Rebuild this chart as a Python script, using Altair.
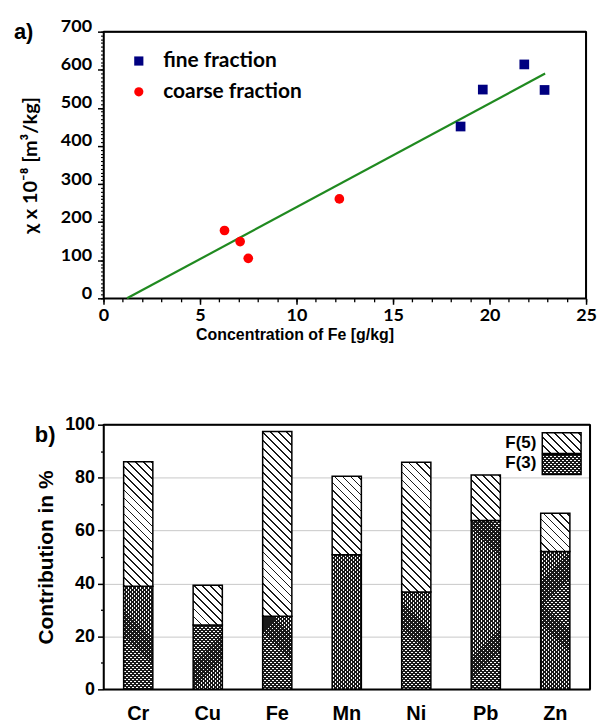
import math
import altair as alt
import pandas as pd

# ---------------- data: panel a ----------------
series_names = ["fine fraction", "coarse fraction"]
fine_x = [18.5, 19.65, 21.8, 22.85]
fine_y = [451, 548, 614, 547]
coarse_x = [6.27, 7.08, 7.5, 12.22]
coarse_y = [178, 149, 105, 261]
fit_x = [1.22, 22.88]
fit_y = [0, 590]
x_ticks_a = [0, 5, 10, 15, 20, 25]
y_ticks_a = [0, 100, 200, 300, 400, 500, 600, 700]

# ---------------- data: panel b ----------------
elements = ["Cr", "Cu", "Fe", "Mn", "Ni", "Pb", "Zn"]
f3_vals = [39.0, 24.3, 27.6, 50.9, 36.8, 63.8, 52.1]
total_vals = [86.0, 39.3, 97.4, 80.5, 85.8, 81.0, 66.5]
legend_b = ["F(5)", "F(3)"]
y_ticks_b = [0, 20, 40, 60, 80, 100]
y_minor_b = [10, 30, 50, 70, 90]

# ---------------- layout ----------------
WA, HA = 485, 268
WB, HB = 489, 266
PAD_INNER = 0.58
BANDW = WB / 7 * (1 - PAD_INNER)
PX_PER_UNIT_B = HB / 100.0
SQ2 = math.sqrt(2)


def stripes(w, h, period, thick, ink, gap, direction):
    """Linear gradient (bbox units) that draws 45 degree stripes."""
    L = (w + h) / SQ2
    a, b = 1.0 / h, 1.0 / w
    s = (a + b) / (a * a + b * b)
    if direction == "back":
        x1, y1, x2, y2 = 0, 1, a * s, 1 - b * s
    else:
        x1, y1, x2, y2 = 0, 0, a * s, b * s
    stops = []
    k = 0
    while True:
        start = k * period / L
        if start >= 1:
            break
        end = min((k * period + thick) / L, 1.0)
        stops += [
            {"offset": round(start, 6), "color": gap},
            {"offset": round(start, 6), "color": ink},
            {"offset": round(end, 6), "color": ink},
            {"offset": round(end, 6), "color": gap},
        ]
        k += 1
    return {"gradient": "linear", "x1": x1, "y1": y1, "x2": round(x2, 7),
            "y2": round(y2, 7), "stops": stops}


HATCH_P, HATCH_T = 8 / SQ2, 1.3
CROSS_P, CROSS_T = 4 / SQ2, 1.5
INK = "#1a1a1a"
CLEAR = "rgba(255,255,255,0)"

rows = []
for el, f3, tot in zip(elements, f3_vals, total_vals):
    h3 = max(f3 * PX_PER_UNIT_B, 1)
    h5 = max((tot - f3) * PX_PER_UNIT_B, 1)
    rows.append({
        "element": el, "f3": f3, "total": tot,
        "g5": stripes(BANDW, h5, HATCH_P, HATCH_T, INK, "white", "back"),
        "g3a": stripes(BANDW, h3, CROSS_P, CROSS_T, INK, "white", "back"),
        "g3b": stripes(BANDW, h3, CROSS_P, CROSS_T, INK, CLEAR, "fwd"),
    })
bars_df = pd.DataFrame(rows)


def border(w, h):
    d = pd.DataFrame({"b": [0]})
    top = alt.Chart(d).mark_rule(color="black", strokeWidth=2).encode(
        x=alt.value(0), x2=alt.value(w), y=alt.value(0))
    right = alt.Chart(d).mark_rule(color="black", strokeWidth=2).encode(
        x=alt.value(w), y=alt.value(0), y2=alt.value(h))
    return [top, right]


# ---------------- panel a ----------------
scatter_df = pd.DataFrame({
    "x": fine_x + coarse_x,
    "y": fine_y + coarse_y,
    "series": [series_names[0]] * len(fine_x) + [series_names[1]] * len(coarse_x),
})
fit_df = pd.DataFrame({"x": fit_x, "y": fit_y})

xs_a = alt.Scale(domain=[0, 25], nice=False, zero=False)
ys_a = alt.Scale(domain=[0, 700], nice=False)

fit = alt.Chart(fit_df).mark_line(color="#208a20", strokeWidth=2.2).encode(
    x=alt.X("x:Q", scale=xs_a, axis=None),
    y=alt.Y("y:Q", scale=ys_a, axis=None),
)

minor_a = alt.Chart(fit_df).mark_line(opacity=0).encode(
    x=alt.X("x:Q", scale=xs_a, axis=alt.Axis(
        orient="bottom", values=list(range(26)), labels=False, domain=False,
        grid=False, title=None, tickSize=3.5, tickWidth=1.3, tickColor="black")),
    y=alt.Y("y:Q", scale=ys_a, axis=alt.Axis(
        orient="left", values=list(range(0, 701, 10)), labels=False, domain=False,
        grid=False, title=None, tickSize=3, tickWidth=1.1, tickColor="black")),
)

leg_a = alt.Legend(
    orient="none", legendX=25, legendY=19, title=None,
    labelFont="Lato", labelFontWeight="bold", labelFontSize=21, labelColor="black",
    symbolSize=85, symbolStrokeWidth=0, rowPadding=9, labelOffset=14,
)

pts = alt.Chart(scatter_df).mark_point(filled=True, opacity=1, size=95).encode(
    x=alt.X("x:Q", scale=xs_a, axis=alt.Axis(
        orient="bottom", values=x_ticks_a, grid=False, tickSize=6, labelFlush=False,
        labelFont="Lato", labelFontWeight="bold", labelFontSize=18, labelPadding=2,
        title="Concentration of Fe [g/kg]", titleFont="Liberation Sans",
        titleFontWeight="bold", titleFontSize=16, titlePadding=2, titleX=192,
        titleAnchor="start", titleAlign="center")),
    y=alt.Y("y:Q", scale=ys_a, axis=alt.Axis(
        orient="left", values=y_ticks_a, grid=False, tickSize=6, labelFlush=False,
        labelFont="Lato", labelFontWeight="bold", labelFontSize=18, labelPadding=6,
        labelOffset=-5,
        title="χ x 10⁻⁸ [m³/kg]", titleFont="Lato", titleFontWeight="bold",
        titleFontSize=20, titlePadding=20)),
    color=alt.Color("series:N", scale=alt.Scale(domain=series_names,
                                                range=["#000080", "#ff0000"]),
                    legend=leg_a),
    shape=alt.Shape("series:N", scale=alt.Scale(domain=series_names,
                                                range=["square", "circle"]),
                    legend=leg_a),
)

label_a = alt.Chart(pd.DataFrame({"t": ["a)"]})).mark_text(
    align="left", baseline="middle", font="Liberation Sans", fontWeight="bold",
    fontSize=22, color="black").encode(
    x=alt.value(-90), y=alt.value(0), text="t:N")

panel_a = alt.layer(fit, pts, minor_a, *border(WA, HA), label_a).resolve_axis(
    x="independent", y="independent").properties(width=WA, height=HA)

# ---------------- panel b ----------------
xs_b = alt.Scale(domain=elements, paddingInner=PAD_INNER, paddingOuter=PAD_INNER / 2)
ys_b = alt.Scale(domain=[0, 100], nice=False)

f3_base = alt.Chart(bars_df).mark_bar(strokeWidth=0).encode(
    x=alt.X("element:N", scale=xs_b, sort=elements, axis=alt.Axis(
        orient="bottom", ticks=False, labelAngle=0, labelFont="Liberation Sans",
        labelFontWeight="bold", labelFontSize=20, labelPadding=14, title=None)),
    y=alt.Y("f3:Q", scale=ys_b, axis=alt.Axis(
        orient="left", values=y_ticks_b, grid=True, gridColor="#c8c8c8",
        gridWidth=1, tickSize=6, labelFont="Liberation Sans", labelFontWeight="bold",
        labelFontSize=18, labelPadding=3, title="Contribution in %",
        titleFont="Liberation Sans", titleFontWeight="bold", titleFontSize=21,
        titlePadding=8)),
    y2=alt.datum(0),
    fill=alt.Fill("g3a:N", scale=None),
)

f3_top = alt.Chart(bars_df).mark_bar(stroke="black", strokeWidth=1.5).encode(
    x=alt.X("element:N", scale=xs_b, sort=elements, axis=None),
    y=alt.Y("f3:Q", scale=ys_b, axis=alt.Axis(
        orient="left", values=y_minor_b, labels=False, domain=False, grid=False,
        title=None, tickSize=3, tickWidth=1.3, tickColor="black")),
    y2=alt.datum(0),
    fill=alt.Fill("g3b:N", scale=None),
)

f5 = alt.Chart(bars_df).mark_bar(stroke="black", strokeWidth=1.5).encode(
    x=alt.X("element:N", scale=xs_b, sort=elements, axis=None),
    y=alt.Y("total:Q", scale=ys_b, axis=None),
    y2="f3:Q",
    fill=alt.Fill("g5:N", scale=None),
)

one = pd.DataFrame({"t": [legend_b[0]]})
two = pd.DataFrame({"t": [legend_b[1]]})
LX1, LX2 = 441, 480
leg5_rect = alt.Chart(one).mark_rect(
    fill=stripes(LX2 - LX1, 21, HATCH_P, HATCH_T, INK, "white", "back"),
    stroke="black", strokeWidth=1.5).encode(
    x=alt.value(LX1), x2=alt.value(LX2), y=alt.value(8), y2=alt.value(29))
leg3_rect_a = alt.Chart(two).mark_rect(
    fill=stripes(LX2 - LX1, 20, CROSS_P, CROSS_T, INK, "white", "back")).encode(
    x=alt.value(LX1), x2=alt.value(LX2), y=alt.value(30), y2=alt.value(50))
leg3_rect_b = alt.Chart(two).mark_rect(
    fill=stripes(LX2 - LX1, 20, CROSS_P, CROSS_T, INK, CLEAR, "fwd"),
    stroke="black", strokeWidth=1.5).encode(
    x=alt.value(LX1), x2=alt.value(LX2), y=alt.value(30), y2=alt.value(50))
leg_text_style = dict(align="right", baseline="middle", font="Liberation Sans",
                      fontWeight="bold", fontSize=17, color="black")
leg5_text = alt.Chart(one).mark_text(**leg_text_style).encode(
    x=alt.value(435), y=alt.value(18), text="t:N")
leg3_text = alt.Chart(two).mark_text(**leg_text_style).encode(
    x=alt.value(435), y=alt.value(39), text="t:N")

label_b = alt.Chart(pd.DataFrame({"t": ["b)"]})).mark_text(
    align="left", baseline="middle", font="Liberation Sans", fontWeight="bold",
    fontSize=22, color="black").encode(
    x=alt.value(-69), y=alt.value(10), text="t:N")

panel_b = alt.layer(
    f3_base, f3_top, f5, *border(WB, HB), leg5_rect, leg3_rect_a, leg3_rect_b,
    leg5_text, leg3_text, label_b,
).resolve_axis(x="independent", y="independent").properties(width=WB, height=HB)

chart = alt.vconcat(panel_a, panel_b, spacing=72).properties(
    padding={"left": 13, "top": 15, "right": 0, "bottom": 0}
).configure_view(stroke="black", strokeWidth=1.5).configure_axis(
    domainColor="black", domainWidth=1.5, tickColor="black", tickWidth=1.5,
    labelColor="black", titleColor="black"
)

chart.save("out.html", embed_options={"renderer": "svg", "actions": False})
